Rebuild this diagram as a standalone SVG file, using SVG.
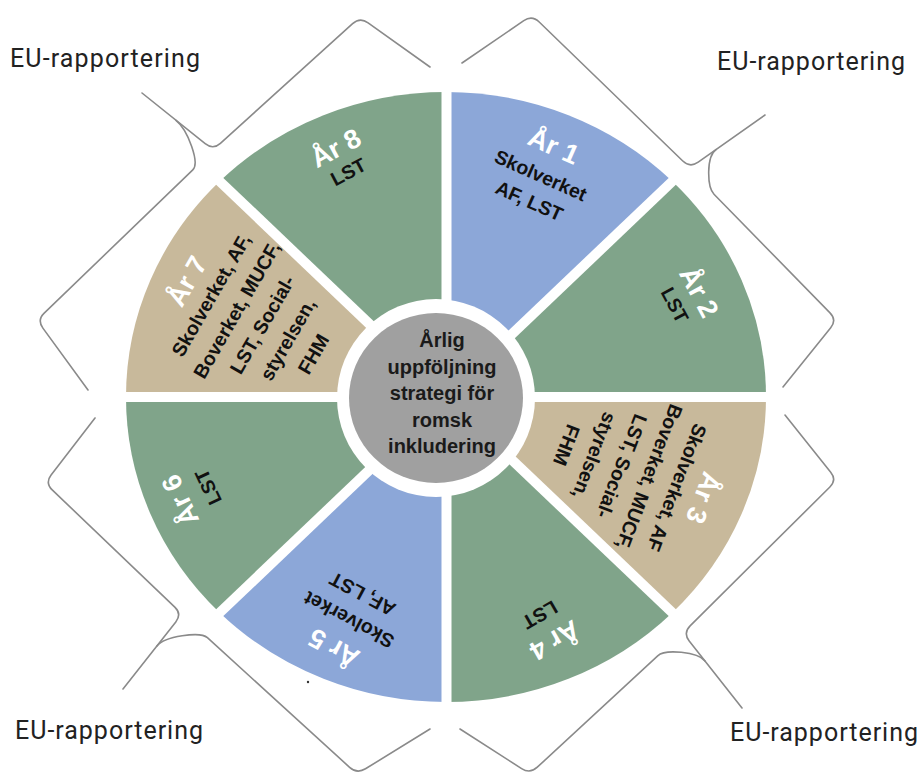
<svg xmlns="http://www.w3.org/2000/svg" width="920" height="776" viewBox="0 0 920 776">
<defs>
<style>
.blue{fill:#8ca7d8}
.green{fill:#80a48a}
.tan{fill:#c8b99b}
.gap{stroke:#fff;stroke-width:10;fill:none}
.yr{font-family:"Liberation Sans",Arial,sans-serif;font-weight:bold;font-size:27px;fill:#fff;text-anchor:middle}
.lb{font-family:"Liberation Sans",Arial,sans-serif;font-weight:bold;font-size:19.5px;fill:#111;text-anchor:middle}
.hub{font-family:"Liberation Sans",Arial,sans-serif;font-weight:bold;font-size:20px;fill:#1a1a1a;text-anchor:middle}
.eu{font-family:Roboto,"Liberation Sans",Arial,sans-serif;font-size:25px;fill:#222}
.brace{fill:none;stroke:#8a8a8a;stroke-width:1.6;stroke-linejoin:round;stroke-linecap:round}
</style>
</defs>
<rect width="920" height="776" fill="#fff"/>

<g id="connectors">
<path class="brace" d="M430,67 L368.1,22.8 Q360,17 352.6,23.7 L220.4,143.3 Q213,150 205.2,143.7 L142,93"/>
<path class="brace" d="M88,390 L42.9,328.1 Q37,320 44.2,313.1 L192.8,169.9 C200,163 188,130 176,120.3"/>
<path class="brace" d="M462,63 L523.8,20.7 Q532,15 539.2,22 L682.8,161 Q690,168 698.2,162.2 L765,115"/>
<path class="brace" d="M783,387 L830.7,327.8 Q837,320 830,312.9 L714,194.2 C707,187 706.2,156.5 716,149.6"/>
<path class="brace" d="M95,418 L51.1,475.1 Q45,483 52.2,489.9 L174.8,607.1 Q182,614 175.8,621.9 L123,689"/>
<path class="brace" d="M430,729 L365.5,768.8 Q357,774 349.6,767.3 L207.4,637.7 C200,631 164.4,636.6 157,646"/>
<path class="brace" d="M785,415 L830.7,472.2 Q837,480 829.9,487 L690.1,625.9 Q683,633 689.2,640.9 L742,708"/>
<path class="brace" d="M460,729 L521.6,768.6 Q530,774 537.3,767.2 L657.7,655.8 C665,649 697.6,651.6 705,661"/>
</g>

<g id="sectors-shapes">
<path id="s1" class="blue" d="M446,397 L446,92 A320,305 0 0 1 672.3,181.3 Z"/>
<path id="s2" class="green" d="M446,397 L672.3,181.3 A320,305 0 0 1 766,397 Z"/>
<path id="s3" class="tan" d="M446,397 L766,397 A320,305 0 0 1 672.3,612.7 Z"/>
<path id="s4" class="green" d="M446,397 L672.3,612.7 A320,305 0 0 1 446,702 Z"/>
<path id="s5" class="blue" d="M446,397 L446,702 A320,305 0 0 1 219.7,612.7 Z"/>
<path id="s6" class="green" d="M446,397 L219.7,612.7 A320,305 0 0 1 126,397 Z"/>
<path id="s7" class="tan" d="M446,397 L126,397 A320,305 0 0 1 219.7,181.3 Z"/>
<path id="s8" class="green" d="M446,397 L219.7,181.3 A320,305 0 0 1 446,92 Z"/>
<line class="gap" x1="446.5" y1="84" x2="446.5" y2="710"/>
<line class="gap" x1="118" y1="397" x2="774" y2="397"/>
<line class="gap" x1="212" y1="174" x2="680" y2="620"/>
<line class="gap" x1="212" y1="620" x2="680" y2="174"/>
<circle cx="308" cy="682" r="1.2" fill="#333"/>
</g>

<g id="hub">
<circle cx="436" cy="398" r="99" fill="#fff"/>
<ellipse cx="436" cy="398" rx="87" ry="85" fill="#a0a0a0"/>
<text class="hub" x="442" y="347">Årlig</text>
<text class="hub" x="442" y="373.5">uppföljning</text>
<text class="hub" x="442" y="400">strategi för</text>
<text class="hub" x="442" y="426.5">romsk</text>
<text class="hub" x="442" y="453">inkludering</text>
</g>

<g id="year1" transform="translate(540.8,175.1) rotate(24)">
<text class="yr" x="0" y="-22.5">År 1</text>
<text class="lb" x="0" y="7">Skolverket</text>
<text class="lb" x="0" y="35">AF, LST</text>
</g>
<g id="year2" transform="translate(675,305) rotate(62)">
<text class="yr" x="0" y="-18">År 2</text>
<text class="lb" x="0" y="7">LST</text>
</g>
<g id="year3" transform="translate(677,487.6) rotate(111)">
<text class="yr" x="0" y="-19">År 3</text>
<text class="lb" x="0" y="7">Skolverket, AF</text>
<text class="lb" x="0" y="36.5">Boverket, MUCF,</text>
<text class="lb" x="0" y="66">LST, Social-</text>
<text class="lb" x="0" y="95.5">styrelsen,</text>
<text class="lb" x="0" y="125">FHM</text>
</g>
<g id="year4" transform="translate(540,615) rotate(150)">
<text class="yr" x="0" y="-20">År 4</text>
<text class="lb" x="0" y="7">LST</text>
</g>
<g id="year5" transform="translate(348.8,620) rotate(208)">
<text class="yr" x="0" y="-22.5">År 5</text>
<text class="lb" x="0" y="7">Skolverket</text>
<text class="lb" x="0" y="36">AF, LST</text>
</g>
<g id="year6" transform="translate(208,487) rotate(245)">
<text class="yr" x="0" y="-21.5">År 6</text>
<text class="lb" x="0" y="7">LST</text>
</g>
<g id="year7" transform="translate(211,295) rotate(-60)">
<text class="yr" x="0" y="-18.5">År 7</text>
<text class="lb" x="0" y="7">Skolverket, AF,</text>
<text class="lb" x="0" y="36.5">Boverket, MUCF,</text>
<text class="lb" x="0" y="66">LST, Social-</text>
<text class="lb" x="0" y="95.5">styrelsen,</text>
<text class="lb" x="0" y="125">FHM</text>
</g>
<g id="year8" transform="translate(348.3,171.7) rotate(-28)">
<text class="yr" x="0" y="-17.5">År 8</text>
<text class="lb" x="0" y="7">LST</text>
</g>

<g id="eu-labels">
<text id="eu-tl" class="eu" x="10" y="67" textLength="190" lengthAdjust="spacing">EU-rapportering</text>
<text id="eu-tr" class="eu" x="717" y="70" textLength="188" lengthAdjust="spacing">EU-rapportering</text>
<text id="eu-bl" class="eu" x="15" y="739" textLength="188" lengthAdjust="spacing">EU-rapportering</text>
<text id="eu-br" class="eu" x="730" y="741" textLength="188" lengthAdjust="spacing">EU-rapportering</text>
</g>
</svg>
